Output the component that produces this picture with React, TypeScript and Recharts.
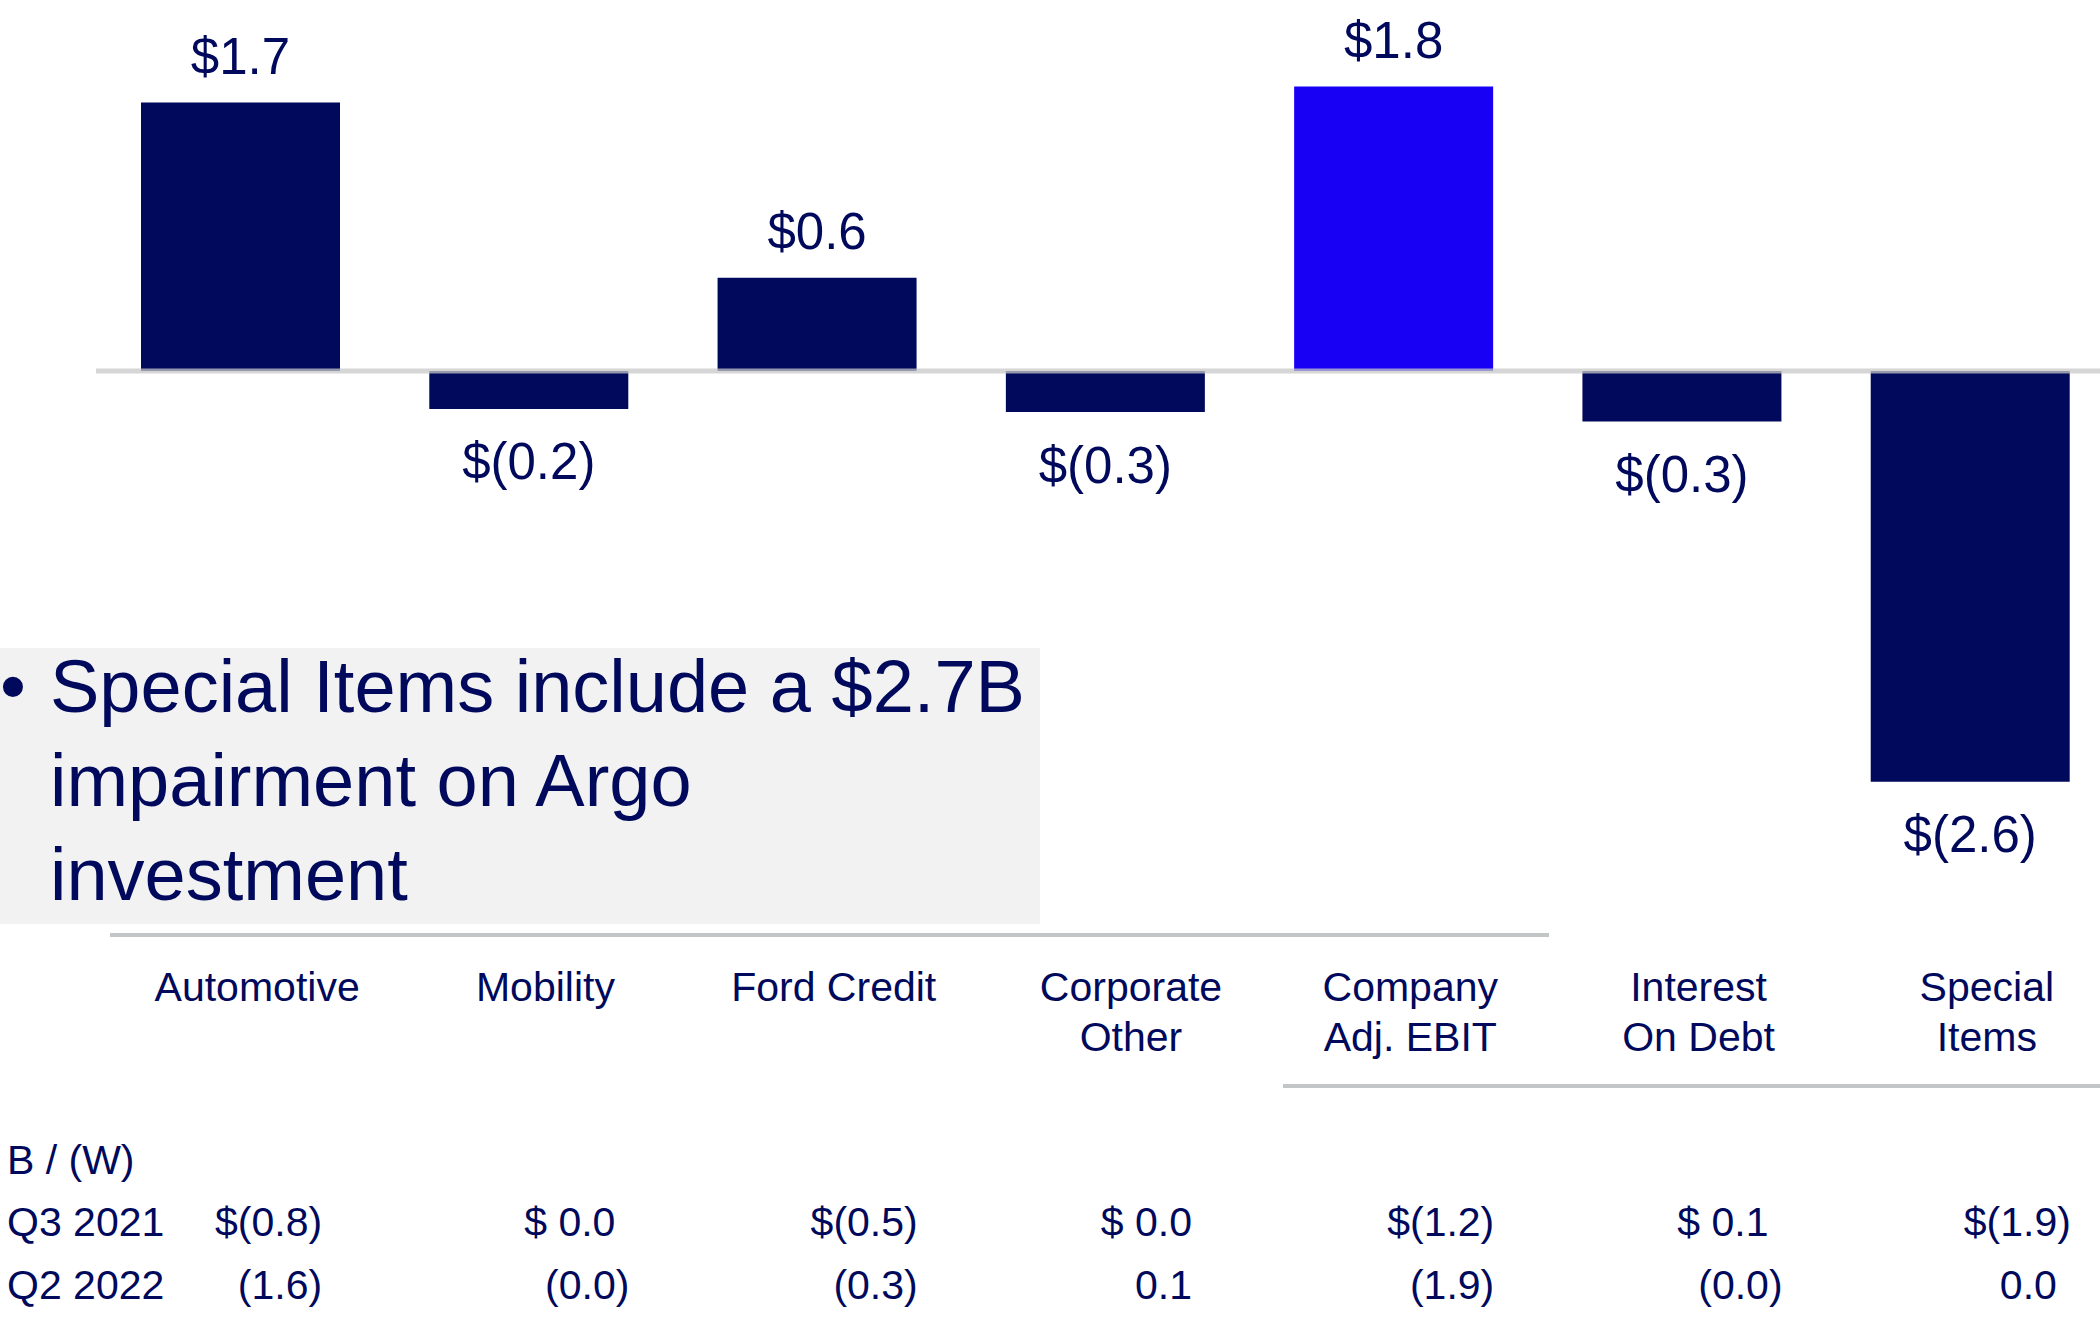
import React from "react";
import { BarChart, Bar, XAxis, YAxis, Cell, LabelList, ReferenceLine } from "recharts";

// Q3 2022 EBIT walk, $B
const categories = [
  "Automotive",
  "Mobility",
  "Ford Credit",
  "Corporate\nOther",
  "Company\nAdj. EBIT",
  "Interest\nOn Debt",
  "Special\nItems",
];
const values = [1.7, -0.24, 0.59, -0.26, 1.8, -0.32, -2.6];
const highlight = "Company\nAdj. EBIT";

// B / (W) comparison rows
const rowLabels = ["Q3 2021", "Q2 2022"];
const vsQ3_2021 = [-0.8, 0.0, -0.5, 0.0, -1.2, 0.1, -1.9];
const vsQ2_2022 = [-1.6, -0, -0.3, 0.1, -1.9, -0, 0.0];

const noteLines = ["Special Items include a $2.7B", "impairment on Argo", "investment"];

const NAVY = "#00095B";
const BRIGHT = "#1700F4";
const FONT = "'Liberation Sans', Arial, sans-serif";

const data = categories.map((name, i) => ({ name, value: values[i] }));

const isNeg = (v: number) => v < 0 || Object.is(v, -0);

function fmtBar(v: number) {
  const s = Math.abs(v).toFixed(1);
  return isNeg(v) ? `$(${s})` : `$${s}`;
}

function fmtCell(v: number, dollar: boolean) {
  const s = Math.abs(v).toFixed(1);
  if (isNeg(v)) return `${dollar ? "$" : ""}(${s})`;
  return `${dollar ? "$ " : ""}${s}`;
}

function BarValueLabel(props: any) {
  const { x, y, width, height, value } = props;
  const top = Math.min(y, y + height);
  const bottom = Math.max(y, y + height);
  const cy = value >= 0 ? top - 46 : bottom + 53;
  return (
    <text
      x={x + width / 2}
      y={cy}
      textAnchor="middle"
      dominantBaseline="central"
      fontSize={51}
      fontFamily={FONT}
      fill={NAVY}
    >
      {fmtBar(value)}
    </text>
  );
}

// category name + the two comparison values under it
function CategoryTick(props: any) {
  const { x, payload } = props;
  const i = categories.indexOf(payload.value);
  const lines = String(payload.value).split("\n");
  const colRight = x + (i === 0 ? 68 : 87);
  const paren = 14;
  const cells = [vsQ3_2021[i], vsQ2_2022[i]];
  const dx = i === 3 ? 26 : 17;
  return (
    <g fontFamily={FONT} fill={NAVY}>
      {lines.map((l, k) => (
        <text
          key={k}
          x={x + dx}
          y={987 + k * 50}
          textAnchor="middle"
          dominantBaseline="central"
          fontSize={41}
        >
          {l}
        </text>
      ))}
      {cells.map((v, r) => (
        <text
          key={"c" + r}
          x={colRight + (isNeg(v) ? paren : 0)}
          y={r === 0 ? 1222 : 1285}
          textAnchor="end"
          dominantBaseline="central"
          fontSize={41}
        >
          {fmtCell(v, r === 0)}
        </text>
      ))}
    </g>
  );
}

export default function App() {
  return (
    <div
      style={{
        position: "fixed",
        left: 0,
        top: 0,
        width: 2100,
        height: 1344,
        overflow: "hidden",
        background: "#fff",
        fontFamily: FONT,
        color: NAVY,
      }}
    >
      {/* note box */}
      <div style={{ position: "absolute", left: 0, top: 648, width: 1040, height: 276, background: "#F2F2F2" }} />
      <div style={{ position: "absolute", left: 0, top: 640, fontSize: 74, lineHeight: "94px" }}>•</div>
      <div style={{ position: "absolute", left: 50, top: 640, fontSize: 74, lineHeight: "94px", whiteSpace: "nowrap" }}>
        {noteLines.map((l) => (
          <div key={l}>{l}</div>
        ))}
      </div>

      {/* separator lines */}
      <div style={{ position: "absolute", left: 110, top: 933, width: 1439, height: 4, background: "#C3C6C6" }} />
      <div style={{ position: "absolute", left: 1283, top: 1084, width: 817, height: 4, background: "#C3C6C6" }} />

      {/* row labels */}
      <div style={{ position: "absolute", left: 7, top: 1136, fontSize: 41, lineHeight: "48px" }}>B / (W)</div>
      {rowLabels.map((l, r) => (
        <div
          key={l}
          style={{ position: "absolute", left: 7, top: (r === 0 ? 1222 : 1285) - 24, fontSize: 41, lineHeight: "48px" }}
        >
          {l}
        </div>
      ))}

      <div style={{ position: "absolute", left: 0, top: 0 }}>
        <BarChart
          width={2130}
          height={1344}
          data={data}
          margin={{ top: 55, right: 16, left: 96, bottom: 390 }}
          barSize={199}
        >
          <XAxis
            dataKey="name"
            axisLine={false}
            tickLine={false}
            interval={0}
            height={30}
            tick={<CategoryTick />}
          />
          <YAxis hide domain={[-3.5, 2]} allowDataOverflow />
          <Bar dataKey="value" isAnimationActive={false}>
            {data.map((d) => (
              <Cell key={d.name} fill={d.name === highlight ? BRIGHT : NAVY} />
            ))}
            <LabelList dataKey="value" content={<BarValueLabel />} />
          </Bar>
          <ReferenceLine y={0} stroke="#C8C8C8" strokeOpacity={0.75} strokeWidth={5} />
        </BarChart>
      </div>
    </div>
  );
}
